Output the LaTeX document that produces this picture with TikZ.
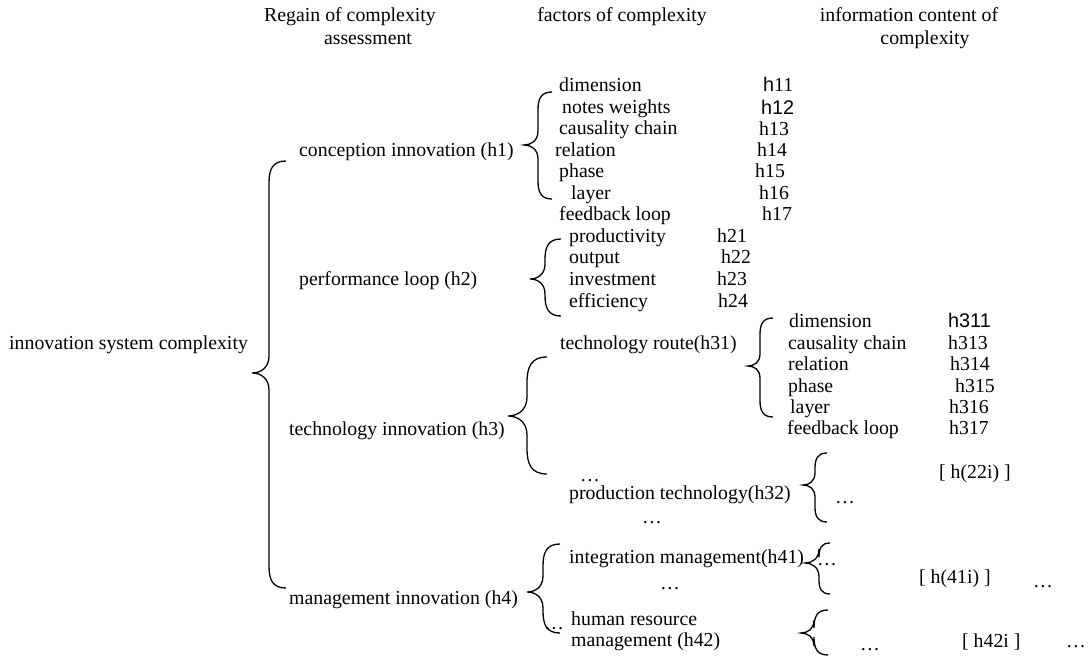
\documentclass[tikz,border=0pt]{standalone}
\usepackage{fontspec}
\setmainfont{Liberation Serif}
\newfontfamily\arialf{Liberation Sans}
\newcommand\wbrace[6]{%
  \pgfmathsetmacro\wbD{#3-#2}\pgfmathsetmacro\wbM{#2-#1}%
  \draw[brc] (#3,#4) .. controls ({#2+0.2*\wbD},#4) and (#2,{#4+0.5*\wbD}) .. (#2,{#4+1.3*\wbD})
    -- (#2,{#5-1.0*\wbM}) .. controls (#2,{#5-0.3*\wbM}) and ({#1+0.5*\wbM},#5) .. (#1,#5)
    .. controls ({#1+0.5*\wbM},#5) and (#2,{#5+0.3*\wbM}) .. (#2,{#5+1.0*\wbM})
    -- (#2,{#6-1.3*\wbD}) .. controls (#2,{#6-0.5*\wbD}) and ({#2+0.2*\wbD},#6) .. (#3,#6);}
\begin{document}
\begin{tikzpicture}[x=1pt,y=-1pt,
  lbl/.style={inner sep=0pt, anchor=west, text height=14pt, text depth=4pt, font=\fontsize{19.8}{21}\selectfont},
  hdr/.style={lbl, anchor=center},
  brc/.style={draw=black, line width=1.3pt}]
\useasboundingbox (0,0) rectangle (1088,658);
% headers
\node[hdr] (hA1) at (350,17) {Regain of complexity};
\node[hdr] (hA2) at (368,40) {assessment};
\node[hdr] (hB)  at (622,17) {factors of complexity};
\node[hdr] (hC1) at (909,17) {information content of};
\node[hdr] (hC2) at (925,40) {complexity};
% root
\node[lbl] (root) at (9,344) {innovation system complexity};
\wbrace{252}{269}{286}{161}{373}{588}
% level 1
\node[lbl] (c1) at (299,152) {conception innovation (h1)};
\node[lbl] (c2) at (299,280) {performance loop (h2)};
\node[lbl] (c3) at (289,430) {technology innovation (h3)};
\node[lbl] (c4) at (289,599) {management innovation (h4)};
% h1
\wbrace{524}{538}{552}{92}{145}{199}
\node[lbl] (f11) at (559,87) {dimension};
\node[lbl] (f12) at (562,109) {notes weights};
\node[lbl] (f13) at (559,130) {causality chain};
\node[lbl] (f14) at (555,152) {relation};
\node[lbl] (f15) at (559,173) {phase};
\node[lbl] (f16) at (571,195) {layer};
\node[lbl] (f17) at (559,216) {feedback loop};
\node[lbl] (v11) at (763,87) {{\arialf h}11};
\node[lbl] (v12) at (761,110) {\arialf h12};
\node[lbl] (v13) at (759,131) {h13};
\node[lbl] (v14) at (757,152) {h14};
\node[lbl] (v15) at (755,173) {h15};
\node[lbl] (v16) at (759,195) {h16};
\node[lbl] (v17) at (762,216) {h17};
% h2
\wbrace{530}{545}{561}{239}{279}{316}
\node[lbl] (f21) at (569,237) {productivity};
\node[lbl] (f22) at (569,258) {output};
\node[lbl] (f23) at (569,280) {investment};
\node[lbl] (f24) at (569,302) {efficiency};
\node[lbl] (v21) at (717,237) {h21};
\node[lbl] (v22) at (721,258) {h22};
\node[lbl] (v23) at (717,280) {h23};
\node[lbl] (v24) at (718,302) {h24};
% h3
\wbrace{508}{527}{547}{357}{416}{474}
\node[lbl] (f31) at (560,344) {technology route(h31)};
\node[lbl] (d31) at (580,476) {…};
\node[lbl] (f32) at (569,494) {production technology(h32)};
\node[lbl] (d32) at (642,518) {…};
% h31
\wbrace{748}{760}{773}{318}{366}{417}
\node[lbl] (g1) at (789,322) {dimension};
\node[lbl] (g3) at (788,344) {causality chain};
\node[lbl] (g4) at (788,365) {relation};
\node[lbl] (g5) at (788,387) {phase};
\node[lbl] (g6) at (790,408) {layer};
\node[lbl] (g7) at (787,429) {feedback loop};
\node[lbl] (w1) at (948,322) {\arialf h311};
\node[lbl] (w3) at (948,344) {h313};
\node[lbl] (w4) at (950,365) {h314};
\node[lbl] (w5) at (955,387) {h315};
\node[lbl] (w6) at (949,408) {h316};
\node[lbl] (w7) at (949,429) {h317};
% h32
\wbrace{803}{815}{827}{453}{485}{522}
\node[lbl] (e32) at (835,498) {…};
\node[lbl] (x32) at (939,473) {[ h(22i) ]};
% h4
\wbrace{527}{543}{560}{544}{592}{633}
\node[lbl] (f41) at (569,558) {integration management(h41)};
\node[lbl] (d41) at (660,584) {…};
\node[lbl] (d42) at (544,624) {…};
\node[inner sep=0pt, anchor=north west, align=left, font=\fontsize{19.8}{21}\selectfont] (f42) at (571,612) {human resource\\management (h42)};
% h41
\wbrace{805}{819}{830}{543}{563}{594}
\node[lbl] (e41) at (817,560) {…};
\node[lbl] (x41) at (919,578) {[ h(41i) ]};
\node[lbl] (y41) at (1033,582) {…};
% h42
\wbrace{801}{814}{828}{610}{633}{655}
\node[lbl] (e42) at (860,645) {…};
\node[lbl] (x42) at (962,642) {[ h42i ]};
\node[lbl] (y42) at (1066,642) {…};
\end{tikzpicture}
\end{document}
